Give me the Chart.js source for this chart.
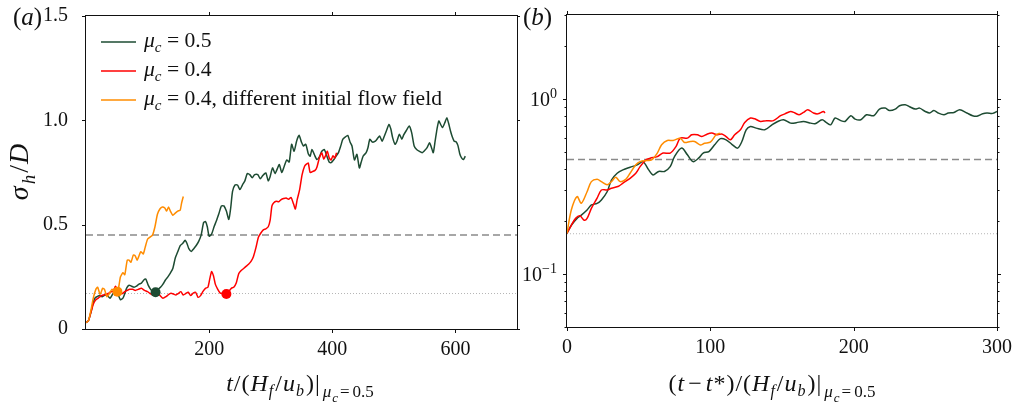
<!DOCTYPE html>
<html>
<head>
<meta charset="utf-8">
<script src="https://cdn.jsdelivr.net/npm/chart.js@4.4.1/dist/chart.umd.min.js"></script>
<style>
html,body{margin:0;padding:0;background:#fff;}
#wrap{position:relative;width:1018px;height:408px;overflow:hidden;}
#boxA{position:absolute;left:0;top:0;width:520px;height:408px;}
#boxB{position:absolute;left:520px;top:0;width:498px;height:408px;}
canvas{display:block;}
</style>
</head>
<body>
<div id="wrap">
  <div id="boxA"><canvas id="chartA" width="520" height="408"></canvas></div>
  <div id="boxB"><canvas id="chartB" width="498" height="408"></canvas></div>
</div>
<script>
// ---- panel (a): sigma_h/D against t/(H_f/u_b) ----
var tGreenA=[0,4,8,12,15,18,22,26,31,35,39,44,48,52,56,60,63,66,70,74,78,82,86,90,94,97,101,105,109,113,117,121,125,129,133,137,141,145,149,153,157,161,164,167,171,175,179,183,187,191,194,197,200,204,208,212,216,220,224,228,232,235,238,242,246,250,254,258,262,266,270,274,279,283,287,292,296,299,303,307,311,314,318,322,326,330,334,338,342,346,350,353,357,361,364,367,371,375,379,383,387,391,395,398,402,406,410,414,417,421,425,429,432,436,440,444,447,450,455,458,461,465,470,474,477,481,484,488,492,495,498,502,505,509,513,516,520,525,529,533,537,541,546,550,554,558,561,564,567,570,573,576,579,583,586,589,592,595,598,601,604,607,610,613,616];
var sGreenA=[0.03,0.04,0.08,0.13,0.15,0.155,0.16,0.155,0.163,0.16,0.147,0.17,0.172,0.165,0.14,0.148,0.17,0.196,0.21,0.205,0.2,0.205,0.215,0.22,0.235,0.24,0.21,0.19,0.178,0.176,0.19,0.2,0.215,0.235,0.25,0.268,0.29,0.34,0.37,0.4,0.41,0.425,0.41,0.385,0.372,0.385,0.4,0.42,0.45,0.51,0.515,0.49,0.445,0.455,0.49,0.52,0.555,0.59,0.59,0.565,0.525,0.58,0.66,0.69,0.69,0.668,0.69,0.71,0.745,0.74,0.725,0.74,0.74,0.72,0.735,0.748,0.71,0.73,0.772,0.745,0.77,0.788,0.75,0.78,0.81,0.8,0.885,0.852,0.9,0.928,0.895,0.877,0.885,0.84,0.828,0.86,0.835,0.8125,0.825,0.852,0.86,0.83,0.8,0.797,0.81,0.828,0.845,0.88,0.909,0.92,0.928,0.895,0.877,0.81,0.837,0.772,0.8,0.828,0.845,0.87,0.909,0.896,0.9,0.915,0.925,0.9,0.92,0.95,0.98,0.96,0.917,0.885,0.9,0.933,0.909,0.93,0.95,0.973,0.94,0.877,0.86,0.852,0.845,0.855,0.869,0.893,0.87,0.845,0.9,0.957,0.997,0.98,0.965,0.99,1.013,0.985,0.949,0.92,0.9,0.897,0.88,0.84,0.82,0.8125,0.828];

var tRedA=[0,4,8,12,16,20,24,28,32,36,40,44,48,51,55,59,63,67,71,76,80,85,90,95,100,104,108,112,117,121,125,130,134,138,142,146,150,154,158,162,166,170,174,178,182,186,190,194,198,201,204,207,210,214,218,222,228,232,236,240,244,248,252,256,260,264,268,272,276,280,284,288,292,296,299,302,305,309,313,317,321,325,329,333,337,340,343,347,351,355,358,361,364,368,372,375,379,383,386,389,392,395,398,401,404,407];
var sRedA=[0.03,0.04,0.08,0.12,0.14,0.148,0.158,0.163,0.165,0.17,0.178,0.18,0.205,0.19,0.172,0.17,0.179,0.185,0.19,0.19,0.185,0.19,0.195,0.185,0.179,0.17,0.163,0.168,0.171,0.158,0.147,0.155,0.165,0.171,0.168,0.163,0.17,0.179,0.163,0.17,0.176,0.16,0.172,0.176,0.152,0.16,0.18,0.195,0.2,0.24,0.275,0.255,0.215,0.19,0.172,0.17,0.168,0.18,0.195,0.2,0.22,0.265,0.28,0.29,0.3,0.31,0.324,0.348,0.39,0.44,0.46,0.475,0.48,0.49,0.52,0.59,0.605,0.612,0.61,0.62,0.625,0.628,0.622,0.63,0.6,0.575,0.62,0.668,0.74,0.78,0.79,0.795,0.75,0.755,0.76,0.775,0.82,0.845,0.815,0.83,0.852,0.82,0.81,0.83,0.82,0.845];

var tOrangeA=[0,4,8,12,16,19,23,27,30,34,38,42,46,50,53,56,60,63,67,70,73,77,80,83,86,89,93,96,100,104,108,112,116,120,124,128,131,134,137,141,145,149,153,155,158];
var sOrangeA=[0.03,0.04,0.09,0.15,0.19,0.2,0.165,0.195,0.19,0.155,0.17,0.19,0.18,0.18,0.2,0.25,0.27,0.26,0.33,0.33,0.32,0.355,0.35,0.33,0.35,0.37,0.36,0.39,0.43,0.44,0.45,0.49,0.55,0.575,0.585,0.58,0.565,0.585,0.565,0.545,0.555,0.565,0.57,0.6,0.635];

// onset points marked with dots
var tOnsetA=[51,113,228];
var sOnsetA=[0.179,0.176,0.168];

// ---- panel (b): same, against (t - t*)/(H_f/u_b) on a log axis ----
var tGreenB=[0,3,7,10,14,17,21,24,28,31,35,39,44,49,53,57,60,64,68,72,75,80,84,88,92,95,99,103,107,111,115,119,122,125,128,132,138,143,147,151,156,160,165,170,173,178,181,184,187,191,194,198,201,205,209,214,218,222,225,229,232,236,239,243,246,250,253,256,259,263,266,270,274,279,283,286,290,293,297,300];
var sGreenB=[0.171,0.19,0.208,0.217,0.232,0.248,0.253,0.265,0.295,0.344,0.376,0.393,0.407,0.42,0.438,0.393,0.368,0.385,0.385,0.41,0.468,0.523,0.479,0.438,0.46,0.49,0.5,0.546,0.592,0.583,0.55,0.523,0.57,0.665,0.695,0.68,0.665,0.71,0.742,0.759,0.726,0.73,0.742,0.726,0.72,0.759,0.73,0.71,0.776,0.75,0.742,0.8,0.765,0.759,0.81,0.8,0.873,0.884,0.857,0.873,0.912,0.924,0.9,0.873,0.884,0.846,0.829,0.857,0.829,0.81,0.829,0.835,0.865,0.829,0.8,0.795,0.82,0.829,0.825,0.846];

var tRedB=[0,3,6,9,12,14,17,21,24,28,31,36,39,44,48,51,55,58,63,67,72,76,79,84,87,91,94,98,101,105,108,111,114,117,121,124,128,131,135,139,144,149,152,156,159,162,165,168,172,175,179,180];
var sRedB=[0.171,0.19,0.208,0.215,0.203,0.208,0.237,0.271,0.302,0.302,0.309,0.317,0.33,0.352,0.376,0.41,0.448,0.458,0.468,0.49,0.49,0.533,0.596,0.596,0.623,0.623,0.609,0.63,0.637,0.623,0.63,0.609,0.583,0.623,0.665,0.732,0.776,0.768,0.742,0.75,0.75,0.8,0.82,0.846,0.829,0.81,0.835,0.865,0.829,0.82,0.846,0.829];

var tOrangeB=[0,3,7,10,14,17,21,24,28,31,34,37,41,44,48,51,56,59,63,66,70,74,79,82,86,89,93,96,100,104,107];
var sOrangeB=[0.171,0.232,0.277,0.2535,0.295,0.337,0.347,0.337,0.323,0.337,0.357,0.337,0.347,0.376,0.42,0.438,0.444,0.448,0.49,0.546,0.578,0.578,0.596,0.563,0.57,0.57,0.545,0.558,0.565,0.623,0.637];

// reference levels
var levelDashed=0.45;
var levelDotted=0.17;

// ticks
var xTicksA=[200,400,600];
var yTicksA=[0,0.5,1,1.5];
var xTicksB=[0,100,200,300];
var yMajorB=[0.1,1];
var yMajorExpB=['\u22121','0'];
var yMinorB=[0.05,0.06,0.07,0.08,0.09,0.2,0.3,0.4,0.5,0.6,0.7,0.8,0.9,2,3];

var seriesLabels=['0.5','0.4','0.4, different initial flow field'];
var GREEN='#1d4b32', RED='#ff0000', ORANGE='#ff8c00';
var FONT='"Liberation Serif", "Times New Roman", serif';

function pts(xs,ys){ return xs.map(function(x,i){return {x:x,y:ys[i]};}); }

function curve(xs,ys,color,tension){
  return {data:pts(xs,ys),borderColor:color,backgroundColor:color,borderWidth:1.5,pointRadius:0,tension:tension,fill:false};
}
function level(y,x0,x1,color,dash,w){
  return {data:[{x:x0,y:y},{x:x1,y:y}],borderColor:color,borderWidth:w,borderDash:dash,pointRadius:0,fill:false};
}

// rich text: parts of {t, i(talic), s(ize), dy, g(ap after)}
function fontOf(p){ return (p.i?'italic ':'')+(p.s||20)+'px '+FONT; }
function richWidth(ctx,parts){
  var w=0;
  parts.forEach(function(p){ctx.font=fontOf(p); w+=ctx.measureText(p.t).width+(p.g||0);});
  return w;
}
function drawRich(ctx,parts,x,y,align){
  var cx=x;
  if(align==='center') cx=x-richWidth(ctx,parts)/2;
  if(align==='right') cx=x-richWidth(ctx,parts);
  ctx.textBaseline='alphabetic';
  ctx.textAlign='left';
  parts.forEach(function(p){
    ctx.font=fontOf(p);
    ctx.fillText(p.t,cx,y+(p.dy||0));
    cx+=ctx.measureText(p.t).width+(p.g||0);
  });
}
var muSub=[{t:'μ',i:1,s:17,dy:6,g:1},{t:'c',i:1,s:13,dy:11,g:2},{t:'=',s:17,dy:6,g:3},{t:'0.5',s:17,dy:6}];
var frac=[{t:'H',i:1,s:24,g:1},{t:'f',i:1,s:16,dy:5,g:2},{t:'/',s:24,g:1},{t:'u',i:1,s:24,g:1},{t:'b',i:1,s:16,dy:5,g:2},{t:')',s:24,g:1},{t:'|',s:24,g:3}];

function decor(cfg){
  return {
    id:'decor',
    afterDraw:function(chart){
      var ctx=chart.ctx, a=chart.chartArea, sx=chart.scales.x, sy=chart.scales.y;
      ctx.save();
      ctx.strokeStyle='#111';
      ctx.lineWidth=1;
      ctx.strokeRect(a.left-0.5,a.top-0.5,a.right-a.left+1,a.bottom-a.top+1);
      ctx.beginPath();
      sx.ticks.forEach(function(t){
        var px=Math.round(sx.getPixelForValue(t.value))+0.5;
        ctx.moveTo(px,a.bottom); ctx.lineTo(px,a.bottom+4);
        ctx.moveTo(px,a.top); ctx.lineTo(px,a.top-4);
      });
      sy.ticks.forEach(function(t){
        var py=Math.round(sy.getPixelForValue(t.value))+0.5;
        var len=(cfg.minor&&cfg.minor.indexOf(t.value)>=0)?2.5:4;
        ctx.moveTo(a.left,py); ctx.lineTo(a.left-len,py);
        ctx.moveTo(a.right,py); ctx.lineTo(a.right+len,py);
      });
      ctx.stroke();

      ctx.fillStyle='#111';
      // powers of ten on the log axis
      if(cfg.majors){
        cfg.majors.forEach(function(v,i){
          var py=sy.getPixelForValue(v);
          drawRich(ctx,[{t:'10'},{t:yMajorExpB[i],s:14,dy:-8}],a.left-10,py+7,'right');
        });
      }
      drawRich(ctx,[{t:'(',s:25},{t:cfg.panel,i:1,s:25},{t:')',s:25}],cfg.panelX,25,'left');
      drawRich(ctx,cfg.xTitle,cfg.xTitleX,391,'center');
      if(cfg.yTitle){
        ctx.save();
        ctx.translate(28,172);
        ctx.rotate(-Math.PI/2);
        drawRich(ctx,cfg.yTitle,0,0,'center');
        ctx.restore();
      }
      if(cfg.legend){
        var colors=[GREEN,RED,ORANGE];
        seriesLabels.forEach(function(lab,i){
          var ly=42+i*29;
          ctx.strokeStyle=colors[i]; ctx.lineWidth=1.5;
          ctx.beginPath(); ctx.moveTo(101,ly); ctx.lineTo(136,ly); ctx.stroke();
          drawRich(ctx,[{t:'μ',i:1,s:21.6},{t:'c',i:1,s:15,dy:5},{t:' = '+lab,s:21.6}],144,ly+5,'left');
        });
      }
      ctx.restore();
    }
  };
}

function axisFont(){ return {family:FONT,size:20}; }
// keep tick labels from pushing the plot area around
function fixY(w){ return function(s){ s.width=w; s.paddingTop=0; s.paddingBottom=0; }; }
function fixX(h){ return function(s){ s.height=h; s.paddingLeft=0; s.paddingRight=0; }; }

// ---- chart (a) ----
new Chart(document.getElementById('chartA'),{
  type:'line',
  data:{datasets:[
    {data:pts(tOnsetA,sOnsetA),showLine:false,pointRadius:5,pointBorderWidth:0,
     pointBackgroundColor:[ORANGE,GREEN,RED],borderColor:'transparent'},
    curve(tOrangeA,sOrangeA,ORANGE,0.2),
    curve(tRedA,sRedA,RED,0.2),
    curve(tGreenA,sGreenA,GREEN,0.2),
    level(levelDashed,0,700,'#8a8a8a',[7,4],1.5),
    level(levelDotted,0,700,'#b5b5b5',[1,2],1)
  ]},
  options:{
    responsive:false,animation:false,devicePixelRatio:1,
    layout:{autoPadding:false,padding:{top:16,right:3,left:0,bottom:0}},
    plugins:{legend:{display:false},tooltip:{enabled:false}},
    scales:{
      x:{type:'linear',min:0,max:700,grid:{display:false},border:{display:false},
        afterBuildTicks:function(s){s.ticks=xTicksA.map(function(v){return {value:v};});},
        afterFit:fixX(79),
        ticks:{autoSkip:false,maxRotation:0,padding:1,color:'#111',font:axisFont()}},
      y:{type:'linear',min:0,max:1.5,grid:{display:false},border:{display:false},
        afterBuildTicks:function(s){s.ticks=yTicksA.map(function(v){return {value:v};});},
        afterFit:fixY(86),
        ticks:{autoSkip:false,padding:10,color:'#111',font:axisFont(),
          callback:function(v){return v===0?'0':Number(v).toFixed(1);}}}
    }
  },
  plugins:[decor({panel:'a',panelX:13,legend:true,xTitleX:300,
    xTitle:[{t:'t',i:1,s:24,g:1},{t:'/',s:24,g:1},{t:'(',s:24,g:1}].concat(frac,muSub),
    yTitle:[{t:'σ',i:1,s:28,g:2},{t:'h',i:1,s:19,dy:7,g:2},{t:'/',s:28,g:1},{t:'D',i:1,s:28}]})]
});

// ---- chart (b) ----
new Chart(document.getElementById('chartB'),{
  type:'line',
  data:{datasets:[
    curve(tOrangeB,sOrangeB,ORANGE,0.3),
    curve(tRedB,sRedB,RED,0.3),
    curve(tGreenB,sGreenB,GREEN,0.3),
    level(levelDashed,0,300,'#8a8a8a',[7,4],1.5),
    level(levelDotted,0,300,'#b5b5b5',[1,2],1)
  ]},
  options:{
    responsive:false,animation:false,devicePixelRatio:1,
    layout:{autoPadding:false,padding:{top:15,right:21,left:0,bottom:0}},
    plugins:{legend:{display:false},tooltip:{enabled:false}},
    scales:{
      x:{type:'linear',min:0,max:300,grid:{display:false},border:{display:false},
        afterBuildTicks:function(s){s.ticks=xTicksB.map(function(v){return {value:v};});},
        afterFit:fixX(81),
        ticks:{autoSkip:false,maxRotation:0,padding:1,color:'#111',font:axisFont()}},
      y:{type:'logarithmic',min:0.05,max:3,grid:{display:false},border:{display:false},
        afterBuildTicks:function(s){s.ticks=yMinorB.concat(yMajorB).sort(function(p,q){return p-q;}).map(function(v){return {value:v};});},
        afterFit:fixY(47),
        ticks:{autoSkip:false,padding:12,color:'#111',font:axisFont(),
          callback:function(){return '';}}}
    }
  },
  plugins:[decor({panel:'b',panelX:3,minor:yMinorB,majors:yMajorB,xTitleX:252,
    xTitle:[{t:'(',s:24,g:1},{t:'t',i:1,s:24,g:4},{t:'−',s:24,g:4},{t:'t',i:1,s:24,g:1},{t:'*',s:24,g:1},{t:')',s:24,g:1},{t:'/',s:24,g:1},{t:'(',s:24,g:1}].concat(frac,muSub)})]
});
</script>
</body>
</html>
